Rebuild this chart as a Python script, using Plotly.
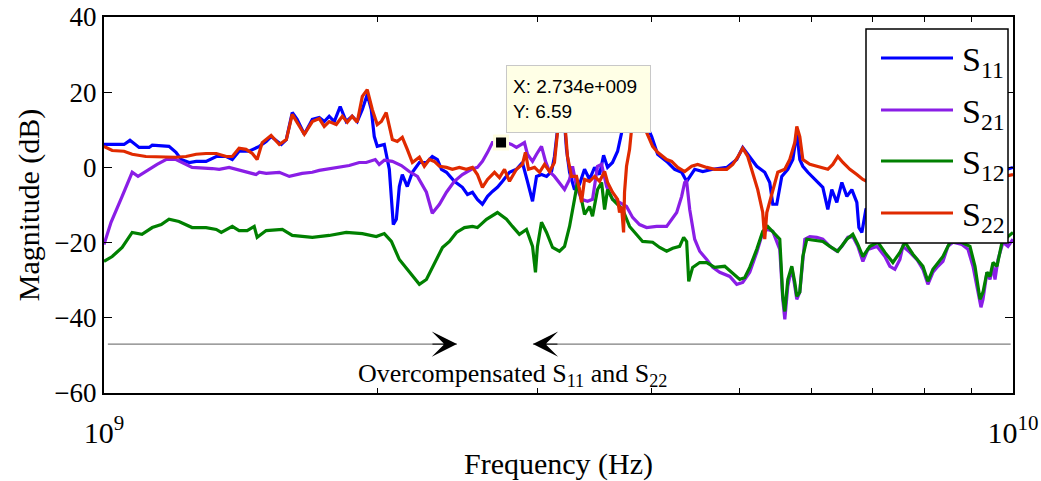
import math
import plotly.graph_objects as go

# ---------------- data (frequency in GHz, magnitude in dB) ----------------
s11_freq = [1.000, 1.052, 1.068, 1.093, 1.121, 1.130, 1.179, 1.200, 1.216, 1.241, 1.263, 1.295, 1.329, 1.363,
            1.384, 1.408, 1.444, 1.482, 1.508, 1.527, 1.567, 1.587, 1.611, 1.631, 1.661, 1.695, 1.725, 1.747,
            1.769, 1.792, 1.819, 1.847, 1.875, 1.899, 1.924, 1.948, 1.968, 1.983, 1.998, 2.034, 2.060, 2.081,
            2.097, 2.113, 2.129, 2.156, 2.184, 2.223, 2.263, 2.297, 2.327, 2.351, 2.381, 2.429, 2.479, 2.511,
            2.543, 2.575, 2.608, 2.642, 2.675, 2.709, 2.744, 2.793, 2.843, 2.886, 2.923, 2.961, 2.991, 3.029,
            3.068, 3.107, 3.130, 3.154, 3.178, 3.203, 3.227, 3.252, 3.293, 3.335, 3.378, 3.421, 3.465, 3.509,
            3.545, 3.581, 3.626, 3.673, 3.710, 3.748, 3.805, 3.883, 3.963, 4.004, 4.065, 4.159, 4.244, 4.320,
            4.375, 4.409, 4.465, 4.557, 4.674, 4.843, 4.967, 5.043, 5.133, 5.225, 5.332, 5.400, 5.442, 5.497,
            5.567, 5.653, 5.725, 5.783, 5.827, 5.872, 5.947, 6.023, 6.099, 6.177, 6.256, 6.319, 6.400, 6.482,
            6.565, 6.648, 6.733, 6.768, 6.819, 6.889, 7.138, 7.509, 7.900, 8.310, 8.743, 9.198, 9.676, 10.000]
s11_db = [6.1, 6.1, 7.2, 5.3, 5.3, 5.9, 5.6, 4.0, 2.1, 1.3, 1.6, 1.6, 2.9, 2.9,
          2.1, 4.3, 4.3, 5.6, 6.9, 8.2, 6.1, 7.4, 14.6, 12.8, 8.8, 12.8, 13.3, 12.2,
          13.6, 12.2, 16.2, 12.2, 13.6, 12.2, 15.4, 19.4, 15.4, 8.2, 5.6, 6.1, -0.5, -15.2,
          -13.8, -5.1, -1.9, -5.1, -1.3, 1.3, 1.3, 2.9, 2.1, -0.5, -1.3, -3.7, -5.3, -7.2,
          -6.6, -8.5, -9.8, -7.7, -6.4, -5.3, -3.7, -1.3, -0.5, 1.3, -3.7, -9.0, -2.4, -1.9,
          -2.4, -1.1, 2.9, 10.1, 16.8, 15.4, 4.8, -1.3, -5.9, -4.5, -0.5, -3.2, 0.0, -1.9,
          3.2, 0.0, 1.3, 4.3, 8.8, 14.1, 15.4, 12.8, 10.6, 8.2, 3.5, 1.6, -0.5, -1.3,
          -3.7, -2.4, -0.5, -1.1, -0.5, 0.0, 2.1, 5.3, 2.7, 0.3, -1.3, -4.0, -9.8, -9.8,
          -2.4, -0.5, 2.1, 9.3, 2.1, 0.3, -1.3, -2.7, -4.0, -5.3, -11.2, -5.9, -9.3, -4.0,
          -7.7, -5.9, -9.3, -16.0, -17.3, -11.2, -9.8, -8.5, -7.2, -5.9, -4.5, -3.2, -1.1, 0.0]

s21_freq = [1.000, 1.018, 1.047, 1.074, 1.090, 1.121, 1.144, 1.170, 1.200, 1.219, 1.250, 1.315, 1.339, 1.373,
            1.433, 1.470, 1.482, 1.508, 1.559, 1.599, 1.652, 1.695, 1.725, 1.801, 1.861, 1.909, 1.943, 1.988,
            2.008, 2.034, 2.076, 2.124, 2.167, 2.212, 2.263, 2.297, 2.339, 2.381, 2.429, 2.479, 2.536, 2.575,
            2.608, 2.642, 2.675, 2.734, 2.772, 2.807, 2.843, 2.879, 2.901, 2.923, 2.961, 2.991, 3.029, 3.060,
            3.091, 3.130, 3.170, 3.211, 3.252, 3.277, 3.310, 3.352, 3.404, 3.447, 3.491, 3.527, 3.572, 3.626,
            3.691, 3.757, 3.815, 3.883, 3.953, 4.055, 4.159, 4.212, 4.266, 4.320, 4.353, 4.375, 4.409, 4.465,
            4.522, 4.603, 4.674, 4.757, 4.880, 4.967, 5.043, 5.133, 5.225, 5.305, 5.373, 5.442, 5.539, 5.581,
            5.610, 5.653, 5.710, 5.754, 5.783, 5.827, 5.857, 5.902, 5.977, 6.084, 6.177, 6.288, 6.400, 6.482,
            6.581, 6.665, 6.750, 6.837, 6.924, 7.084, 7.229, 7.321, 7.414, 7.509, 7.566, 7.702, 7.840, 7.960,
            8.061, 8.164, 8.268, 8.374, 8.481, 8.589, 8.787, 8.922, 9.036, 9.151, 9.221, 9.268, 9.362, 9.434,
            9.506, 9.554, 9.627, 9.750, 9.874, 10.000]
s21_db = [-20.5, -14.6, -7.7, -1.3, -2.4, -0.5, 0.8, 2.1, 2.1, 1.3, 0.0, -0.3, -0.5, 0.0,
          -1.1, -1.9, -1.3, -1.6, -1.3, -2.4, -1.6, -1.3, -0.8, 0.0, 0.5, 1.3, 1.3, 2.1,
          0.8, 1.9, 1.6, 0.5, -1.1, -2.4, -6.6, -12.2, -9.8, -6.6, -3.7, -1.9, -0.5, 0.0,
          1.6, 4.0, 6.6, 6.59, 6.6, 6.1, 5.3, 6.1, 6.6, 3.5, 1.6, 3.5, 5.6, 1.6,
          -1.1, -2.4, -4.0, -5.9, -3.2, 0.3, -5.1, -8.5, -9.0, -8.5, 0.3, 0.8, -5.1, -8.5,
          -9.3, -10.4, -13.3, -15.2, -16.0, -15.7, -15.7, -13.8, -12.0, -7.7, -4.0, -3.7, -11.2, -19.1,
          -22.3, -24.5, -26.6, -27.9, -29.0, -31.1, -30.6, -27.9, -22.6, -17.3, -16.5, -17.0, -21.8, -35.1,
          -40.4, -31.6, -26.6, -31.6, -35.1, -33.2, -27.9, -19.1, -18.4, -18.6, -19.1, -21.0, -22.3, -21.0,
          -18.6, -18.4, -21.0, -25.0, -21.8, -21.0, -23.7, -26.3, -27.1, -24.5, -21.0, -22.6, -24.5, -27.1,
          -31.1, -27.9, -26.3, -25.0, -21.0, -19.9, -20.5, -21.8, -26.3, -33.2, -37.2, -35.1, -27.9, -29.8,
          -26.3, -29.8, -24.5, -19.9, -21.0, -19.1]

s12_freq = [1.000, 1.021, 1.047, 1.074, 1.101, 1.130, 1.156, 1.179, 1.209, 1.250, 1.295, 1.329, 1.346, 1.384,
            1.408, 1.437, 1.463, 1.474, 1.508, 1.547, 1.571, 1.611, 1.695, 1.769, 1.847, 1.924, 1.993, 2.034,
            2.071, 2.113, 2.167, 2.223, 2.263, 2.321, 2.357, 2.399, 2.442, 2.492, 2.543, 2.575, 2.635, 2.709,
            2.772, 2.814, 2.864, 2.916, 2.961, 2.983, 2.998, 3.029, 3.068, 3.115, 3.170, 3.211, 3.252, 3.293,
            3.318, 3.352, 3.378, 3.421, 3.447, 3.491, 3.527, 3.554, 3.581, 3.626, 3.673, 3.720, 3.786, 3.854,
            3.913, 4.014, 4.086, 4.159, 4.223, 4.298, 4.342, 4.375, 4.398, 4.442, 4.522, 4.603, 4.697, 4.818,
            4.904, 5.005, 5.069, 5.133, 5.225, 5.305, 5.373, 5.442, 5.539, 5.581, 5.610, 5.653, 5.710, 5.754,
            5.783, 5.827, 5.872, 5.932, 6.053, 6.177, 6.288, 6.416, 6.565, 6.665, 6.750, 6.837, 6.959, 7.102,
            7.229, 7.377, 7.509, 7.605, 7.761, 7.960, 8.061, 8.164, 8.374, 8.524, 8.743, 8.967, 9.082, 9.198,
            9.268, 9.362, 9.434, 9.506, 9.603, 9.725, 9.874, 10.000]
s12_db = [-25.0, -23.7, -21.3, -17.3, -17.8, -16.0, -15.2, -13.8, -14.4, -16.0, -16.0, -16.5, -17.3, -15.7,
          -16.8, -16.8, -15.7, -18.6, -16.8, -16.5, -16.5, -18.1, -18.6, -18.1, -17.3, -17.6, -18.4, -17.6,
          -19.7, -24.5, -27.7, -31.1, -29.8, -24.5, -21.3, -19.7, -17.3, -16.0, -15.7, -16.0, -13.8, -12.0,
          -13.8, -15.7, -17.8, -16.5, -21.0, -27.9, -21.0, -14.6, -17.3, -21.3, -22.3, -21.0, -15.7, -8.5,
          -4.0, -8.5, -12.5, -10.4, -13.0, -5.9, -4.0, -11.2, -5.9, -8.5, -9.8, -11.2, -15.7, -17.8,
          -19.7, -19.9, -21.3, -22.3, -21.5, -21.0, -18.6, -19.7, -30.3, -26.6, -25.3, -25.3, -26.6, -26.3,
          -27.9, -29.8, -29.3, -26.6, -21.8, -17.0, -15.7, -17.0, -19.1, -34.3, -38.3, -29.8, -26.3, -30.6,
          -34.3, -33.2, -23.7, -19.1, -19.4, -19.7, -21.0, -22.3, -19.1, -17.8, -20.5, -23.7, -21.0, -19.9,
          -22.6, -25.3, -22.6, -19.9, -23.1, -26.3, -30.3, -27.1, -23.7, -19.9, -19.7, -21.0, -26.3, -35.1,
          -33.2, -27.9, -29.0, -25.3, -26.3, -19.9, -18.4, -17.3]

s22_freq = [1.000, 1.021, 1.052, 1.074, 1.112, 1.200, 1.231, 1.263, 1.295, 1.329, 1.363, 1.384, 1.408, 1.433,
            1.456, 1.474, 1.493, 1.527, 1.559, 1.587, 1.611, 1.631, 1.661, 1.695, 1.725, 1.747, 1.769, 1.801,
            1.829, 1.852, 1.875, 1.899, 1.924, 1.948, 1.973, 1.998, 2.019, 2.044, 2.076, 2.102, 2.129, 2.156,
            2.184, 2.223, 2.251, 2.280, 2.309, 2.339, 2.381, 2.417, 2.460, 2.504, 2.543, 2.575, 2.608, 2.642,
            2.689, 2.723, 2.758, 2.793, 2.843, 2.886, 2.908, 2.931, 2.976, 3.014, 3.052, 3.091, 3.130, 3.154,
            3.178, 3.195, 3.211, 3.235, 3.268, 3.310, 3.335, 3.352, 3.378, 3.421, 3.465, 3.509, 3.554, 3.581,
            3.626, 3.673, 3.691, 3.710, 3.729, 3.738, 3.757, 3.786, 3.805, 3.835, 3.883, 3.933, 3.953, 4.014,
            4.065, 4.159, 4.212, 4.277, 4.353, 4.431, 4.499, 4.603, 4.697, 4.843, 4.917, 4.979, 5.043, 5.107,
            5.172, 5.238, 5.305, 5.332, 5.360, 5.442, 5.511, 5.610, 5.681, 5.754, 5.783, 5.827, 5.872, 5.977,
            6.130, 6.256, 6.335, 6.416, 6.499, 6.615, 6.733, 6.837, 6.906, 7.509, 8.524, 9.434, 10.000]
s22_db = [5.6, 4.5, 4.3, 3.5, 2.9, 2.7, 2.9, 3.5, 3.7, 3.7, 2.9, 2.9, 5.1, 4.8,
          3.7, 2.1, 6.6, 8.5, 6.1, 7.4, 14.1, 12.0, 8.8, 12.2, 13.0, 10.9, 12.2, 11.4,
          13.6, 12.0, 13.6, 12.0, 18.9, 20.7, 15.4, 11.4, 12.2, 14.6, 7.4, 6.9, 8.0, 4.8,
          1.3, 2.7, 0.3, 2.1, 1.6, 0.3, 0.0, -0.5, 0.0, -0.5, 0.0, -1.9, -5.3, -3.2,
          -1.3, -2.7, -0.5, -3.7, -0.5, 0.8, 4.0, -0.5, 0.0, -1.3, 0.8, -1.1, 1.3, 9.3,
          16.2, 19.4, 12.8, 2.9, -2.4, -2.4, -5.9, -9.3, -3.2, -3.7, -2.4, -3.7, -1.1, -4.0,
          -6.6, -8.5, -12.0, -10.4, -17.3, -6.6, 0.3, 4.8, 10.1, 15.4, 16.0, 11.4, 9.3, 5.6,
          4.0, 2.1, 1.6, 0.0, -1.1, 0.3, 0.8, 0.0, -0.5, -0.5, 0.8, 2.7, 5.1, 2.9,
          -1.3, -5.9, -12.0, -19.1, -12.0, -5.9, -1.3, -0.5, 2.1, 6.6, 10.9, 8.2, 2.1, 0.8,
          0.0, -0.5, 0.8, 2.9, 1.3, -0.5, -1.9, -3.2, -3.7, -4.0, -3.7, -3.2, -1.9]

series_names = ["S<sub>11</sub>", "S<sub>21</sub>", "S<sub>12</sub>", "S<sub>22</sub>"]
series_colors = ["#0000FF", "#8A1EE6", "#008000", "#E02A00"]

tip_freq = [2.734]
tip_db = [6.59]

x_tick_vals = [1e9, 1e10]
x_tick_text = ["10<sup>9</sup>", "10<sup>10</sup>"]
x_minor_vals = [2e9, 3e9, 4e9, 5e9, 6e9, 7e9, 8e9, 9e9]
y_tick_vals = [-60, -40, -20, 0, 20, 40]

arrow_level_db = -47.0
arrow_left_tip_ghz = 2.445
arrow_right_tip_ghz = 2.964
note_center_ghz = 2.815
note_db = -55.3

SERIF = "Liberation Serif, Times New Roman, serif"
SANS = "Liberation Sans, Arial, sans-serif"

# plot area in pixels (for placing the boxed legend in paper units)
PL, PR, PT, PB = 104, 1013, 17, 393


def px_to_paper_x(px):
    return (px - PL) / (PR - PL)


def px_to_paper_y(py):
    return (PB - py) / (PB - PT)


fig = go.Figure()
all_series = [
    (series_names[0], series_colors[0], s11_freq, s11_db),
    (series_names[1], series_colors[1], s21_freq, s21_db),
    (series_names[2], series_colors[2], s12_freq, s12_db),
    (series_names[3], series_colors[3], s22_freq, s22_db),
]
for name, color, fr, db in all_series:
    fig.add_trace(go.Scatter(
        x=[f * 1e9 for f in fr], y=db, mode="lines", name=name,
        line=dict(color=color, width=3.2), showlegend=False,
    ))

# data tip marker
fig.add_trace(go.Scatter(
    x=[f * 1e9 for f in tip_freq], y=tip_db, mode="markers", showlegend=False,
    marker=dict(symbol="square", size=13, color="black", line=dict(color="#FFFDE0", width=3)),
))

annotations = []
shapes = []

# data tip box
annotations.append(dict(
    x=math.log10(tip_freq[0] * 1e9), y=tip_db[0], xref="x", yref="y",
    xanchor="left", yanchor="bottom", xshift=5, yshift=10, showarrow=False,
    text="X: 2.734e+009<br>Y: 6.59", align="left", valign="middle",
    font=dict(family=SANS, size=19, color="black"),
    bgcolor="#FFFFE6", bordercolor="#C8C8C8", borderwidth=1, borderpad=6,
    width=131, height=54,
))
# arrow lines (gray) and heads (black)
annotations.append(dict(
    x=math.log10(arrow_left_tip_ghz * 1e9), y=arrow_level_db, xref="x", yref="y",
    ax=math.log10(1.006e9), ay=arrow_level_db, axref="x", ayref="y",
    showarrow=True, arrowhead=0, arrowwidth=1.3, arrowcolor="#7F7F7F", text="",
))
annotations.append(dict(
    x=math.log10(arrow_right_tip_ghz * 1e9), y=arrow_level_db, xref="x", yref="y",
    ax=math.log10(9.98e9), ay=arrow_level_db, axref="x", ayref="y",
    showarrow=True, arrowhead=0, arrowwidth=1.3, arrowcolor="#7F7F7F", text="",
))
annotations.append(dict(
    x=math.log10(arrow_left_tip_ghz * 1e9), y=arrow_level_db, xref="x", yref="y",
    ax=-26, ay=0, showarrow=True, arrowhead=3, arrowsize=4.2, arrowwidth=1,
    arrowcolor="black", text="",
))
annotations.append(dict(
    x=math.log10(arrow_right_tip_ghz * 1e9), y=arrow_level_db, xref="x", yref="y",
    ax=26, ay=0, showarrow=True, arrowhead=3, arrowsize=4.2, arrowwidth=1,
    arrowcolor="black", text="",
))
annotations.append(dict(
    x=math.log10(note_center_ghz * 1e9), y=note_db, xref="x", yref="y",
    showarrow=False, text="Overcompensated S<sub>11</sub> and S<sub>22</sub>",
    font=dict(family=SERIF, size=26, color="black"),
))

# boxed legend (MATLAB style, long line samples)
shapes.append(dict(
    type="rect", xref="paper", yref="paper",
    x0=px_to_paper_x(866), x1=px_to_paper_x(1008), y0=px_to_paper_y(243), y1=px_to_paper_y(29),
    line=dict(color="black", width=1.5), fillcolor="white", layer="above",
))
legend_rows_px = [58, 110, 161, 213]
for (name, color, _, _), row in zip(all_series, legend_rows_px):
    shapes.append(dict(
        type="line", xref="paper", yref="paper",
        x0=px_to_paper_x(881), x1=px_to_paper_x(953), y0=px_to_paper_y(row), y1=px_to_paper_y(row),
        line=dict(color=color, width=3.2), layer="above",
    ))
    annotations.append(dict(
        x=px_to_paper_x(960), y=px_to_paper_y(row), xref="paper", yref="paper",
        xanchor="left", yanchor="middle", yshift=-4, showarrow=False, text=name,
        font=dict(family=SERIF, size=34, color="black"),
    ))

fig.update_layout(
    width=1041, height=481,
    margin=dict(l=PL, r=1041 - PR, t=PT, b=481 - PB, autoexpand=False),
    paper_bgcolor="white", plot_bgcolor="white",
    font=dict(family=SERIF, color="black"),
    annotations=annotations,
    shapes=shapes,
    showlegend=False,
    xaxis=dict(
        type="log", range=[9, 10], tickvals=x_tick_vals, ticktext=x_tick_text,
        ticks="inside", ticklen=8, tickwidth=1, tickcolor="black",
        showline=True, linecolor="black", linewidth=2, mirror="allticks",
        showgrid=False, zeroline=False, ticklabelstandoff=12,
        tickfont=dict(family=SERIF, size=30, color="black"),
        minor=dict(tickvals=x_minor_vals, ticks="inside", ticklen=5, tickcolor="black",
                   tickwidth=1, showgrid=False),
        title=dict(text="Frequency (Hz)", font=dict(family=SERIF, size=30, color="black"), standoff=5),
    ),
    yaxis=dict(
        range=[-60, 40], tickvals=y_tick_vals,
        ticks="inside", ticklen=8, tickwidth=1, tickcolor="black",
        showline=True, linecolor="black", linewidth=2, mirror="allticks",
        showgrid=False, zeroline=False,
        tickfont=dict(family=SERIF, size=27, color="black"),
        title=dict(text="Magnitude (dB)", font=dict(family=SERIF, size=30, color="black"), standoff=6),
    ),
)

fig.write_html("out.html")
